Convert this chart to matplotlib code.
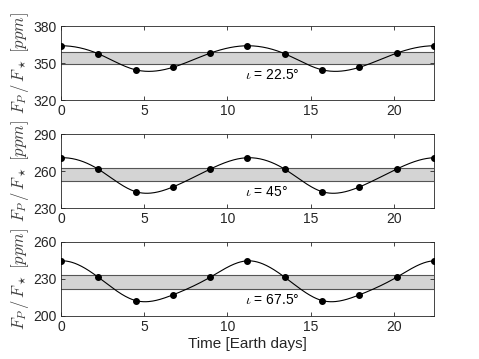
import numpy as np
import matplotlib
matplotlib.use("Agg")
import matplotlib.pyplot as plt

plt.rcParams['font.family'] = ['Liberation Sans', 'DejaVu Sans']
plt.rcParams['mathtext.fontset'] = 'cm'

# ---- data ----
time_days = [0.0, 2.24, 4.48, 6.72, 8.96, 11.2, 13.44, 15.68, 17.92, 20.16, 22.4]
flux_22 = [364.0, 357.5, 344.5, 346.5, 358.0, 364.0, 357.5, 344.5, 346.5, 358.0, 364.0]
flux_45 = [271.0, 261.7, 243.5, 247.3, 261.8, 271.0, 261.7, 243.5, 247.3, 261.8, 271.0]
flux_67 = [244.5, 231.2, 212.3, 216.9, 231.2, 244.5, 231.2, 212.3, 216.9, 231.2, 244.5]
band_22 = [349.0, 359.0]
band_45 = [252.0, 262.5]
band_67 = [222.0, 233.0]
labels = [r"$\iota$ = 22.5°", r"$\iota$ = 45°", r"$\iota$ = 67.5°"]
label_y = [340.0, 243.0, 213.0]
ylims = [(320, 380), (230, 290), (200, 260)]
yticks = [[320, 350, 380], [230, 260, 290], [200, 230, 260]]
xticks = [0, 5, 10, 15, 20]


def periodic_spline(x, y, xs):
    x = np.asarray(x, float)
    y = np.asarray(y, float)
    n = len(x) - 1
    h = np.diff(x)
    A = np.zeros((n, n))
    b = np.zeros(n)
    for i in range(n):
        hp = h[i - 1]
        hn = h[i]
        A[i, (i - 1) % n] += hp / 6
        A[i, i] += (hp + hn) / 3
        A[i, (i + 1) % n] += hn / 6
        yp = y[i - 1] if i > 0 else y[n - 1]
        b[i] = (y[i + 1] - y[i]) / hn - (y[i] - yp) / hp
    M = np.linalg.solve(A, b)
    M = np.append(M, M[0])
    out = np.empty_like(xs)
    for k, t in enumerate(xs):
        i = min(np.searchsorted(x, t, side='right') - 1, n - 1)
        i = max(i, 0)
        hi = h[i]
        a = (x[i + 1] - t) / hi
        bb = (t - x[i]) / hi
        out[k] = (a * y[i] + bb * y[i + 1]
                  + ((a ** 3 - a) * M[i] + (bb ** 3 - bb) * M[i + 1]) * hi ** 2 / 6)
    return out


fig = plt.figure(figsize=(4.79, 3.59), dpi=100)
left, width, height = 0.1273, 0.7787, 0.2061
bottoms = [0.7214, 0.4198, 0.1206]
series = [flux_22, flux_45, flux_67]
bands = [band_22, band_45, band_67]
gray = '#262626'

xs = np.linspace(time_days[0], time_days[-1], 400)
for k in range(3):
    ax = fig.add_axes([left, bottoms[k], width, height])
    lo, hi = bands[k]
    ax.axhspan(lo, hi, facecolor='#d4d4d4', edgecolor='none', zorder=1)
    ax.axhline(lo, color='#555555', lw=0.8, zorder=2)
    ax.axhline(hi, color='#555555', lw=0.8, zorder=2)
    ax.plot(xs, periodic_spline(time_days, series[k], xs), color='black', lw=0.8, zorder=3)
    ax.plot(time_days, series[k], 'o', color='black', ms=4, zorder=4)
    ax.set_xlim(time_days[0], time_days[-1])
    ax.set_ylim(*ylims[k])
    ax.set_yticks(yticks[k])
    ax.set_xticks(xticks)
    ax.tick_params(direction='in', length=3, width=0.6, top=True, right=True,
                   labelsize=10, colors=gray, pad=3)
    for s in ax.spines.values():
        s.set_color(gray)
        s.set_linewidth(0.6)
    ax.text(11.05, label_y[k], labels[k],
            fontsize=10, va='center', ha='left', color='black', zorder=5)
    ax.set_ylabel(r"$F_P\,/\,F_\star\ [ppm]$", fontsize=12, color='#404040', labelpad=2)
    if k == 2:
        ax.set_xlabel("Time [Earth days]", fontsize=11, color=gray, labelpad=2)

fig.savefig("out.png", dpi=100)
